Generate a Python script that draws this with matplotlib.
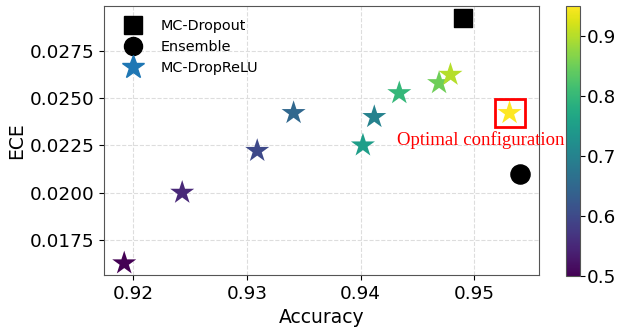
import matplotlib
matplotlib.use("Agg")
import matplotlib.pyplot as plt
from matplotlib.lines import Line2D
from matplotlib.patches import Rectangle
import numpy as np

# Data
dropout_acc = [0.9490]
dropout_ece = [0.02921]
ensemble_acc = [0.9540]
ensemble_ece = [0.0210]
relu_acc = [0.9192, 0.9243, 0.9309, 0.9341, 0.9412, 0.9402, 0.9434, 0.9469, 0.9479, 0.9531]
relu_ece = [0.01627, 0.0200, 0.02221, 0.02421, 0.0240, 0.0225, 0.02526, 0.02579, 0.02623, 0.02421]
relu_p = [0.50, 0.55, 0.60, 0.65, 0.70, 0.75, 0.80, 0.85, 0.90, 0.95]
xticks = [0.92, 0.93, 0.94, 0.95]
yticks = [0.0175, 0.0200, 0.0225, 0.0250, 0.0275]
cticks = [0.5, 0.6, 0.7, 0.8, 0.9]

W, H = 619, 329
fig = plt.figure(figsize=(W / 100, H / 100), dpi=100)
ax = fig.add_axes([104 / W, 1 - 275 / H, (539 - 104) / W, (275 - 6) / H])
cax = fig.add_axes([566 / W, 1 - 276 / H, (580 - 566) / W, (276 - 6) / H])

ax.grid(True, linestyle='--', color='#dddddd', linewidth=0.8, zorder=0)
ax.set_axisbelow(True)

ax.scatter(dropout_acc, dropout_ece, marker='s', s=170, c='black', zorder=3)
ax.scatter(ensemble_acc, ensemble_ece, marker='o', s=190, c='black', zorder=3)
sc = ax.scatter(relu_acc, relu_ece, marker='*', s=330, c=relu_p, cmap='viridis',
                vmin=0.5, vmax=0.95, zorder=3, edgecolors='none')

# highlight optimal
ox, oy = relu_acc[-1], relu_ece[-1]
ax.add_patch(Rectangle((ox - 0.00130, oy - 0.00076), 0.00262, 0.00152,
                       fill=False, edgecolor='red', linewidth=2, zorder=4))
ax.text(0.94317, 0.02278, 'Optimal configuration', color='red',
        fontsize=13.5, family='Liberation Serif', ha='left', va='center',
        clip_on=False, zorder=5)

ax.set_xlim(0.91742, 0.95569)
ax.set_ylim(0.01565, 0.02986)
ax.set_xticks(xticks)
ax.set_xticklabels([f"{v:.2f}" for v in xticks])
ax.set_yticks(yticks)
ax.set_yticklabels([f"{v:.4f}" for v in yticks])
ax.tick_params(labelsize=13.3)
ax.set_xlabel('Accuracy', fontsize=13.5)
ax.set_ylabel('ECE', fontsize=13.5, labelpad=2)
for sp in ax.spines.values():
    sp.set_color('#555555')

handles = [
    Line2D([], [], marker='s', color='black', linestyle='none', markersize=13),
    Line2D([], [], marker='o', color='black', linestyle='none', markersize=13),
    Line2D([], [], marker='*', color='#1f77b4', linestyle='none', markersize=17),
]
ax.legend(handles, ['MC-Dropout', 'Ensemble', 'MC-DropReLU'], loc='upper left',
          frameon=False, fontsize=10.4, handletextpad=0.9, labelspacing=0.48,
          bbox_to_anchor=(0.0046, 1.0))

cb = fig.colorbar(sc, cax=cax)
cb.set_ticks(cticks)
cb.ax.tick_params(labelsize=13.2, pad=1.5)
cb.outline.set_edgecolor('#555555')

fig.savefig('out.png', dpi=100)
